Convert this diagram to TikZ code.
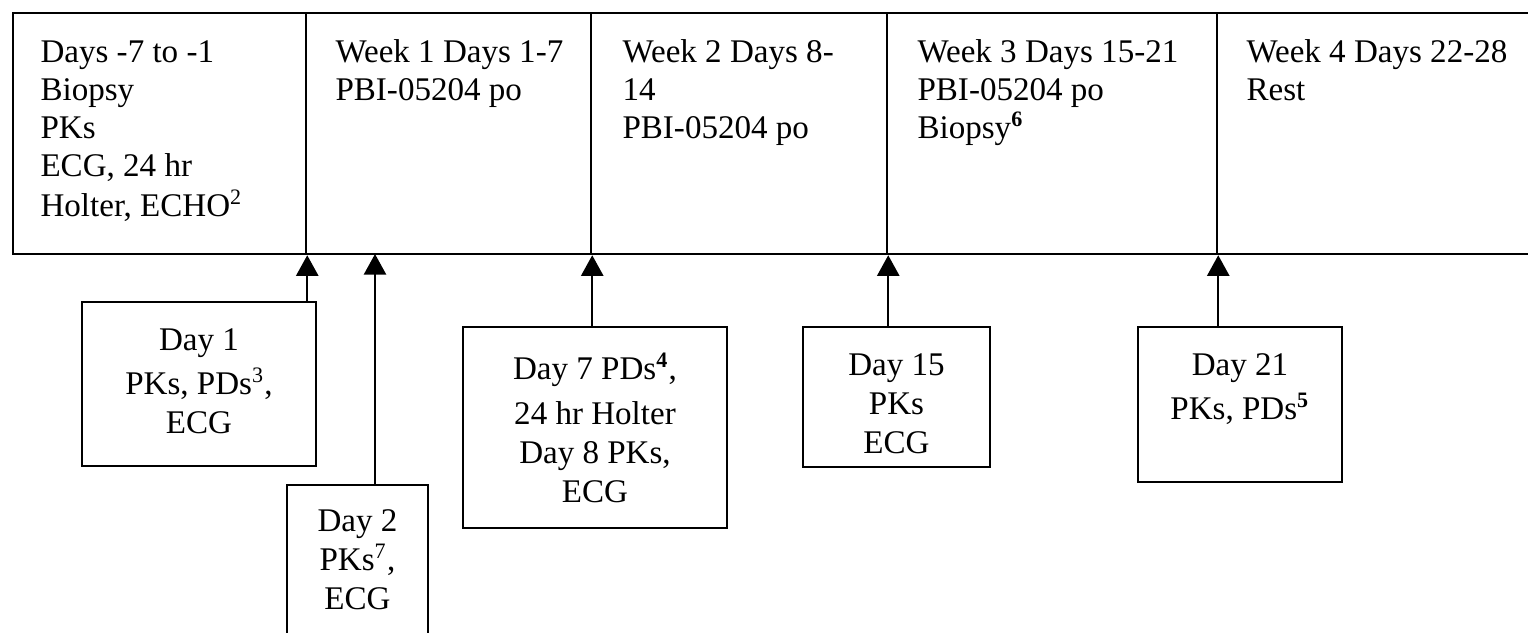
\documentclass[tikz,border=0pt]{standalone}
\usepackage{fontspec}
\setmainfont{Liberation Serif}
\usetikzlibrary{arrows.meta,fit}
\begin{document}
\begin{tikzpicture}[x=0.363pt,y=-0.363pt,
  frame/.style={draw, inner sep=0pt, line width=0.9pt},
  celltext/.style={anchor=north west, inner sep=0pt, align=left, font=\fontsize{12}{13.8}\selectfont},
  daytext/.style={anchor=north, inner sep=0pt, align=center, font=\fontsize{12}{14.2}\selectfont},
  link/.style={-{Triangle[width=8pt,length=7.5pt]}, line width=0.9pt}]
\useasboundingbox (0,0) rectangle (1528,633);
\clip (0,0) rectangle (1528,633);
% top band cells
\node[frame, fit={(13,13) (306,254)}] (c1) {};
\node[frame, fit={(306,13) (591,254)}] (c2) {};
\node[frame, fit={(591,13) (887,254)}] (c3) {};
\node[frame, fit={(887,13) (1217,254)}] (c4) {};
\node[frame, fit={(1217,13) (1560,254)}] (c5) {};
% cell texts
\node[celltext] (t1) at (40,35) {\strut Days -7 to -1\\Biopsy\\PKs\\ECG, 24 hr\\[1pt]Holter, ECHO\textsuperscript{2}};
\node[celltext] (t2) at (335,35) {\strut Week 1 Days 1-7\\PBI-05204 po};
\node[celltext] (t3) at (622,35) {\strut Week 2 Days 8-\\14\\PBI-05204 po};
\node[celltext] (t4) at (917,35) {\strut Week 3 Days 15-21\\PBI-05204 po\\Biopsy\textsuperscript{\textbf{6}}};
\node[celltext] (t5) at (1246,35) {\strut Week 4 Days 22-28\\Rest};
% day boxes
\node[frame, fit={(82,302) (316,466)}] (d1) {};
\node[frame, fit={(287,485) (428,680)}] (d2) {};
\node[frame, fit={(463,327) (727,528)}] (d7) {};
\node[frame, fit={(803,327) (990,467)}] (d15) {};
\node[frame, fit={(1138,327) (1342,482)}] (d21) {};
% day texts
\node[daytext] (e1) at (199,322.6) {\strut Day 1\\[1.8pt]PKs, PDs\textsuperscript{3},\\ECG};
\node[daytext] (e2) at (357.5,503.6) {\strut Day 2\\PKs\textsuperscript{7},\\ECG};
\node[daytext] (e7) at (595,351.6) {\strut Day 7 PDs\textsuperscript{\textbf{4}},\\[2pt]24 hr Holter\\Day 8 PKs,\\ECG};
\node[daytext] (e15) at (896.5,347.6) {\strut Day 15\\PKs\\ECG};
\node[daytext] (e21) at (1240,347.6) {\strut Day 21\\[1.6pt]PKs, PDs\textsuperscript{\textbf{5}}};
% connectors
\coordinate (p2) at (375,254);
\draw[link] (c1.south east |- d1.north) -- (c1.south east);
\draw[link] (p2 |- d2.north) -- (p2);
\draw[link] (c2.south east |- d7.north) -- (c2.south east);
\draw[link] (c3.south east |- d15.north) -- (c3.south east);
\draw[link] (c4.south east |- d21.north) -- (c4.south east);
\end{tikzpicture}
\end{document}
